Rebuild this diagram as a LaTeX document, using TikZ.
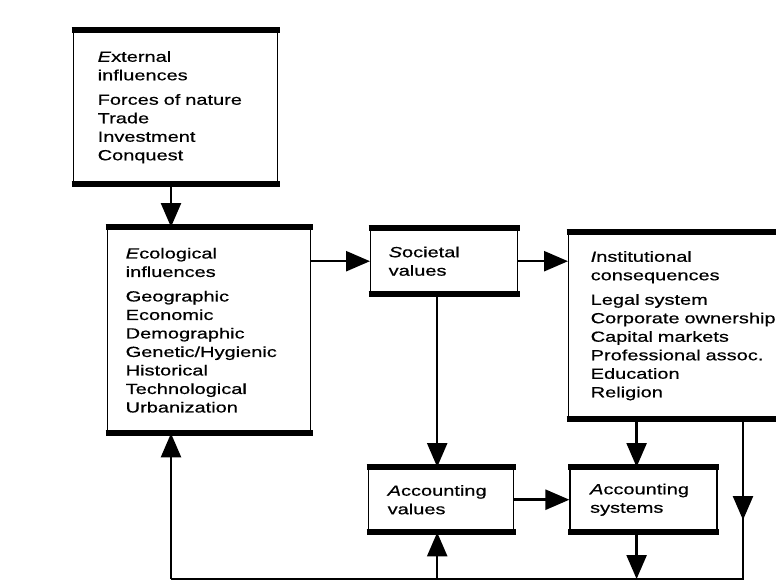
\documentclass[tikz,border=0pt]{standalone}
\usepackage{fontspec}
\setmainfont[FakeStretch=1.36,FakeBold=0.6]{Liberation Sans}
\usepackage{tikz}
\usetikzlibrary{arrows.meta,positioning}

\tikzset{
  panel/.style={draw,line width=1.4pt,align=left,anchor=north west,inner ysep=0pt,
    font=\fontsize{14.7}{18.5}\selectfont},
  flow/.style={line width=2.5pt,-{Triangle[length=24pt,width=20pt]}},
  wire/.style={line width=2.5pt,line join=miter}
}

\begin{document}
\begin{tikzpicture}[x=1pt,y=-1pt,node distance=55pt]
\useasboundingbox (0,0) rectangle (776,587);
\node[panel,inner xsep=24pt,text width=156pt,minimum height=153pt] (ext) at (73,30)
  {\textit{E}xternal\\influences\\[6pt]Forces of nature\\Trade\\Investment\\Conquest};
\node[panel,inner xsep=18pt,text width=167pt,minimum height=205pt] (eco) at (107,227)
  {\textit{E}cological\\influences\\[6pt]Geographic\\Economic\\Demographic\\Genetic/Hygienic\\Historical\\Technological\\Urbanization};
\node[panel,inner xsep=18pt,text width=111pt,minimum height=65pt] (soc) at (370,228)
  {\textit{S}ocietal\\values};
\node[panel,inner xsep=22pt,text width=190pt,minimum height=186pt] (inst) at (568,232)
  {\textit{I}nstitutional\\consequences\\[6pt]Legal system\\Corporate ownership\\Capital markets\\Professional assoc.\\Education\\Religion};
\node[panel,inner xsep=19pt,text width=107pt,minimum height=64pt] (accv) at (368,467)
  {\textit{A}ccounting\\values};
\node[panel,inner xsep=20pt,text width=107pt,minimum height=64pt,anchor=west,right=of accv] (accs)
  {\textit{A}ccounting\\systems};

% heavy top and bottom rules
\foreach \n in {ext,eco,soc,inst,accv,accs}{
  \draw[line width=6pt,shorten <=-1.4pt,shorten >=-1.4pt] (\n.north west) -- (\n.north east);
  \draw[line width=6pt,shorten <=-1.4pt,shorten >=-1.4pt] (\n.south west) -- (\n.south east);
}

\coordinate (rdrop) at (743,520);
\coordinate (rbot) at (743,579);
\coordinate (lbot) at (171,579);

\draw[flow] ([xshift=98pt]ext.south west) -- ([xshift=98pt]ext.south west |- eco.north);
\draw[flow] (eco.east |- soc.west) -- (soc.west);
\draw[flow] (soc.east) -- (soc.east -| inst.west);
\draw[flow] ([xshift=-4pt]accv.north |- soc.south) -- ([xshift=-4pt]accv.north);
\draw[flow] ([xshift=-7pt]accs.north |- inst.south) -- ([xshift=-7pt]accs.north);
\draw[flow] (accv) -- (accs);
\draw[flow] (inst.south -| rdrop) -- (rdrop);
\draw[wire] ([yshift=4pt]rdrop) -- (rbot) -- (lbot);
\draw[flow] (lbot) -- (eco.south -| lbot);
\draw[flow] ([xshift=-4pt]accv.south |- lbot) -- ([xshift=-4pt]accv.south);
\draw[flow] ([xshift=-7pt]accs.south) -- ([xshift=-7pt]accs.south |- lbot);
\end{tikzpicture}
\end{document}
